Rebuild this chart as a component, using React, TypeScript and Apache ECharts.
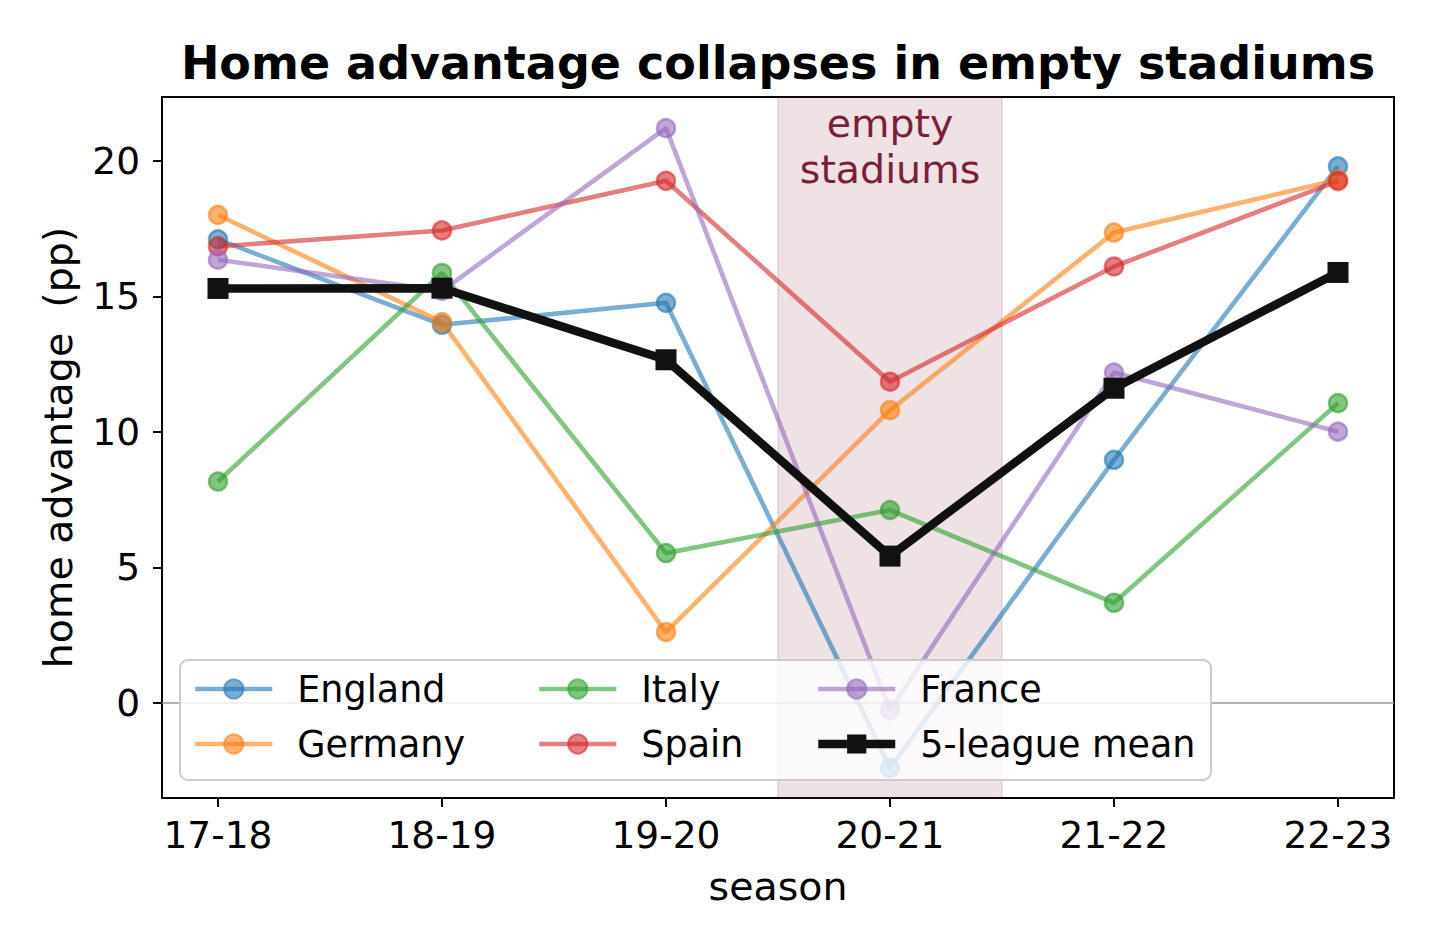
import React, { useEffect, useRef } from "react";
import * as echarts from "echarts";

const seasons = ["17-18", "18-19", "19-20", "20-21", "21-22", "22-23"];
const england = [17.1, 13.95, 14.76, -2.4, 8.97, 19.79];
const germany = [18.0, 14.05, 2.62, 10.8, 17.35, 19.3];
const italy = [8.17, 15.86, 5.53, 7.12, 3.7, 11.06];
const spain = [16.84, 17.43, 19.26, 11.85, 16.1, 19.25];
const france = [16.35, 15.2, 21.2, -0.26, 12.19, 10.01];
const leagueMean = [15.29, 15.3, 12.66, 5.42, 11.61, 15.88];
const yTicks = [0, 5, 10, 15, 20];
const emptySpan = [2.5, 3.5];

const FONT = "DejaVu Sans";

function rgba(hex: string, a: number) {
  const n = parseInt(hex.slice(1), 16);
  return `rgba(${(n >> 16) & 255},${(n >> 8) & 255},${n & 255},${a})`;
}

export default function App() {
  const ref = useRef<HTMLDivElement>(null);
  useEffect(() => {
    const chart = echarts.init(ref.current!, null, { renderer: "svg" });
    const toPts = (arr: number[]) => arr.map((v, i) => [i, v]);
    const countries: [string, number[], string][] = [
      ["England", england, "#1f77b4"],
      ["Germany", germany, "#ff7f0e"],
      ["Italy", italy, "#2ca02c"],
      ["Spain", spain, "#d62728"],
      ["France", france, "#9467bd"],
    ];
    const colorOf: Record<string, string> = {};
    countries.forEach(([n, , c]) => (colorOf[n] = c));
    const series: any[] = countries.map(([name, arr, c], idx) => ({
      name,
      type: "line",
      data: toPts(arr),
      symbol: "circle",
      symbolSize: 18,
      z: 3,
      lineStyle: { color: rgba(c, 0.6), width: 4.6 },
      itemStyle: { color: rgba(c, 0.6), borderColor: rgba(c, 0.6), borderWidth: 2.5 },
      ...(idx === 0
        ? {
            markLine: {
              silent: true,
              symbol: "none",
              z: 1,
              label: { show: false },
              lineStyle: { color: "#999999", width: 1.6, type: "solid" },
              data: [{ yAxis: 0 }],
            },
            markArea: {
              silent: true,
              z: 1,
              itemStyle: { color: "rgba(122,30,55,0.13)", borderColor: "rgba(122,30,55,0.12)", borderWidth: 2 },
              label: {
                show: true,
                position: "insideTop",
                distance: 4,
                formatter: "empty\nstadiums",
                color: "#7a1f37",
                fontFamily: FONT,
                fontSize: 39.5,
                lineHeight: 46,
                align: "center",
              },
              data: [[{ xAxis: emptySpan[0] }, { xAxis: emptySpan[1] }]],
            },
          }
        : {}),
    }));
    series.push({
      name: "5-league mean",
      type: "line",
      data: toPts(leagueMean),
      symbol: "rect",
      symbolSize: 21,
      z: 4,
      lineStyle: { color: "#111111", width: 8.5 },
      itemStyle: { color: "#111111" },
    });

    const legendItem = (name: string) =>
      name === "5-league mean"
        ? { name, lineStyle: { width: 8.5, color: "#111111" } }
        : { name, lineStyle: { width: 4.6, color: rgba(colorOf[name], 0.6) } };

    const legendCommon = {
      orient: "vertical",
      top: 667,
      padding: 0,
      itemGap: 11,
      itemWidth: 77,
      itemHeight: 24,
      textStyle: {
        fontFamily: FONT,
        fontSize: 36.5,
        color: "#000",
        lineHeight: 44,
        padding: [0, 0, 0, 20],
      },
    };

    chart.setOption({
      animation: false,
      backgroundColor: "#ffffff",
      title: {
        text: "Home advantage collapses in empty stadiums",
        left: 773,
        textAlign: "center",
        top: 35,
        textStyle: { fontFamily: FONT, fontSize: 46, fontWeight: "bold", color: "#000" },
      },
      grid: {
        left: 162,
        right: 46,
        top: 97,
        bottom: 152,
        show: true,
        borderColor: "#000",
        borderWidth: 2,
        backgroundColor: "transparent",
      },
      graphic: [
        {
          type: "rect",
          z: 100,
          shape: { x: 180, y: 660, width: 1031, height: 120, r: 8 },
          style: { fill: "rgba(255,255,255,0.8)", stroke: "#cccccc", lineWidth: 2 },
        },
      ],
      legend: [
        { ...legendCommon, left: 193, data: ["England", "Germany"].map(legendItem), z: 110 },
        { ...legendCommon, left: 537, data: ["Italy", "Spain"].map(legendItem), z: 110 },
        { ...legendCommon, left: 814, data: ["France", "5-league mean"].map(legendItem), z: 110 },
      ],
      xAxis: {
        type: "value",
        min: -0.25,
        max: 5.25,
        name: "season",
        nameLocation: "middle",
        nameGap: 68,
        nameTextStyle: { fontFamily: FONT, fontSize: 39.5, color: "#000" },
        axisLine: { show: true, onZero: false, lineStyle: { color: "#000", width: 2 } },
        axisTick: {
          show: true,
          length: 9,
          inside: false,
          customValues: seasons.map((_, i) => i),
          lineStyle: { color: "#000", width: 2 },
        },
        axisLabel: {
          customValues: seasons.map((_, i) => i),
          formatter: (v: number) => seasons[Math.round(v)],
          fontFamily: FONT,
          fontSize: 37.5,
          color: "#000",
          margin: 18,
        },
        splitLine: { show: false },
      },
      yAxis: {
        type: "value",
        min: -3.5,
        max: 22.35,
        name: "home advantage  (pp)",
        nameLocation: "middle",
        nameGap: 84,
        nameTextStyle: { fontFamily: FONT, fontSize: 39.5, color: "#000" },
        axisLine: { show: true, onZero: false, lineStyle: { color: "#000", width: 2 } },
        axisTick: {
          show: true,
          length: 9,
          inside: false,
          customValues: yTicks,
          lineStyle: { color: "#000", width: 2 },
        },
        axisLabel: {
          customValues: yTicks,
          fontFamily: FONT,
          fontSize: 37.5,
          color: "#000",
          margin: 22,
        },
        splitLine: { show: false },
      },
      series,
    });
    return () => chart.dispose();
  }, []);
  return (
    <div
      ref={ref}
      style={{ position: "absolute", left: 0, top: 0, width: 1440, height: 950 }}
    />
  );
}
